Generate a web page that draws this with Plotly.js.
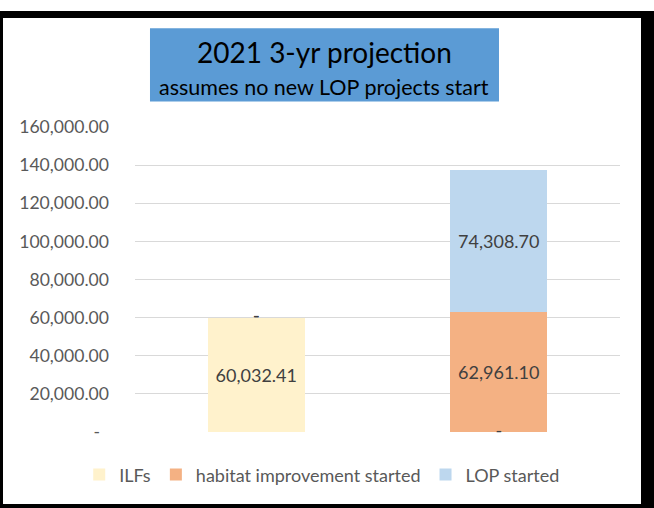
<!DOCTYPE html>
<html>
<head>
<meta charset="utf-8">
<script src="https://cdn.plot.ly/plotly-3.0.1.min.js"></script>
<style>
  html, body { margin: 0; padding: 0; background: #ffffff; }
  #frame {
    position: absolute; left: 0; top: 11px;
    width: 638px; height: 486px;
    border-style: solid; border-color: #000000;
    border-width: 7px 13px 4px 3px;
  }
  #chart { width: 638px; height: 486px; }
</style>
</head>
<body>
<div id="frame"><div id="chart"></div></div>
<script>
const categories = ["Group 1", "Group 2"];
const ilfs = [60032.41, 0];
const habitat = [0, 62961.10];
const lop = [0, 74308.70];
const tickValues = [0, 20000, 40000, 60000, 80000, 100000, 120000, 140000, 160000];

function fmt(v) {
  if (v === 0) return "-";
  return v.toLocaleString("en-US", {minimumFractionDigits: 2, maximumFractionDigits: 2});
}
const tickText = tickValues.map(v => v === 0 ? "-\u00a0\u00a0" : fmt(v));

const FONT = "Lato, Carlito, 'Liberation Sans', sans-serif";
const labelFont = {family: FONT, size: 18, color: "#404040"};

const seriesList = [
  {name: "ILFs", values: ilfs, color: "#FFF2CC"},
  {name: "habitat improvement started", values: habitat, color: "#F4B183"},
  {name: "LOP started", values: lop, color: "#BDD7EE"}
];

const data = [];
const base = categories.map(() => 0);
const zeroX = [], zeroY = [];
seriesList.forEach(s => {
  data.push({
    type: "bar", name: s.name, x: categories, y: s.values,
    marker: {color: s.color, line: {width: 0}},
    text: s.values.map(v => v === 0 ? "" : fmt(v)),
    textposition: "inside", insidetextanchor: "middle",
    textangle: 0, constraintext: "none",
    textfont: labelFont, hoverinfo: "none"
  });
  s.values.forEach((v, i) => {
    if (v === 0) { zeroX.push(categories[i]); zeroY.push(base[i]); }
    base[i] += v;
  });
});
// labels for zero-value segments ("-"), placed at the stack position
data.push({
  type: "scatter", mode: "text", x: zeroX, y: zeroY,
  text: zeroX.map(() => "-"), textposition: "middle center",
  textfont: labelFont, showlegend: false, hoverinfo: "none", cliponaxis: false
});

const layout = {
  width: 638, height: 486,
  margin: {l: 132, r: 21, t: 109, b: 71},
  paper_bgcolor: "#ffffff", plot_bgcolor: "#ffffff",
  barmode: "stack", bargap: 0.6,
  font: {family: FONT, color: "#595959"},
  showlegend: true,
  legend: {
    orientation: "h", x: -0.115, xanchor: "left", y: -0.137, yanchor: "middle",
    bgcolor: "rgba(0,0,0,0)",
    font: {family: FONT, size: 18, color: "#595959"},
    itemwidth: 30, tracegroupgap: 0, traceorder: "normal"
  },
  xaxis: {
    type: "category", showticklabels: false, showgrid: false,
    zeroline: false, showline: false, ticks: ""
  },
  yaxis: {
    range: [0, 160000], tickvals: tickValues, ticktext: tickText,
    showgrid: true, gridcolor: "#D9D9D9", gridwidth: 1,
    zeroline: false, showline: false, ticks: "",
    ticklabelstandoff: 25,
    tickfont: {family: FONT, size: 17.6, color: "#595959"}
  },
  shapes: [{
    type: "rect", xref: "paper", yref: "paper",
    x0: 0.0309, x1: 0.7505, y0: 1.0833, y1: 1.3235,
    fillcolor: "#5B9BD5", line: {width: 0}, layer: "above"
  }],
  annotations: [
    {text: "2021 3-yr projection", xref: "paper", yref: "paper",
     x: 0.3907, y: 1.245, xanchor: "center", yanchor: "middle", showarrow: false,
     font: {family: FONT, size: 28, color: "#000000"}},
    {text: "assumes no new LOP projects start", xref: "paper", yref: "paper",
     x: 0.3907, y: 1.1307, xanchor: "center", yanchor: "middle", showarrow: false,
     font: {family: FONT, size: 21.5, color: "#000000"}}
  ]
};

Plotly.newPlot("chart", data, layout, {displayModeBar: false, staticPlot: true});
</script>
</body>
</html>
